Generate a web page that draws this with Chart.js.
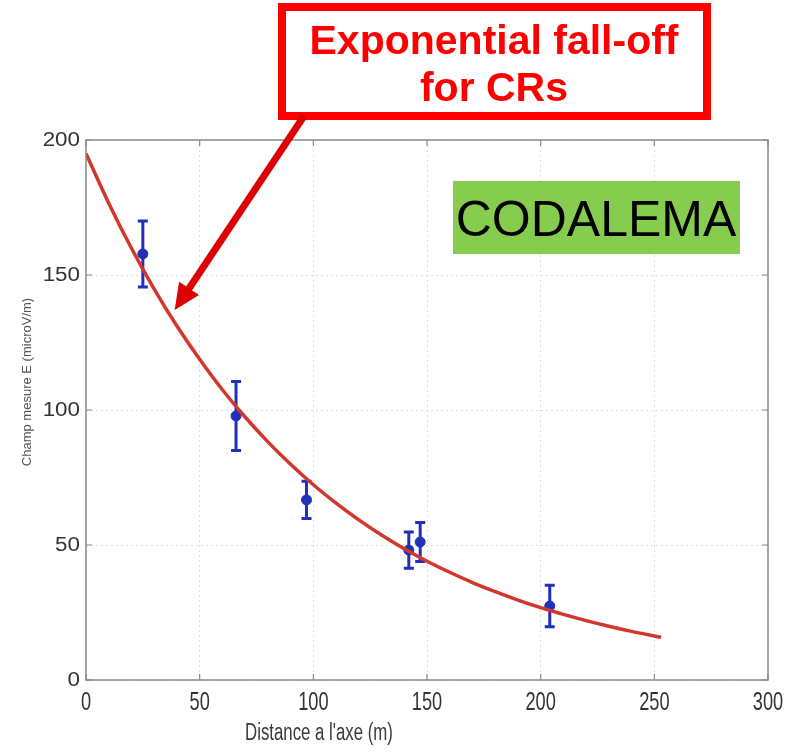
<!DOCTYPE html>
<html>
<head>
<meta charset="utf-8">
<script src="https://cdn.jsdelivr.net/npm/chart.js@4/dist/chart.umd.min.js"></script>
<style>
  html, body { margin: 0; padding: 0; background: #ffffff; }
  #wrap { width: 798px; height: 755px; }
</style>
</head>
<body>
<div id="wrap"><canvas id="c" width="798" height="755"></canvas></div>
<script>
// Measured radio field vs. distance to the shower axis
const xDistance = [25, 66, 97, 142, 147, 204];
const fieldE    = [157.8, 97.8, 66.7, 48.1, 51.1, 27.4];
const fieldErr  = [12.2, 12.8, 6.9, 6.7, 7.2, 7.7];

// Exponential fit curve
const fitX = [0, 10, 20, 30, 40, 50, 60, 70, 80, 90, 100, 110, 120, 130, 140,
              150, 160, 170, 180, 190, 200, 210, 220, 230, 240, 250, 253];
const fitE = [195, 176.6, 159.9, 144.8, 131.1, 118.8, 107.5, 97.4, 88.2, 79.9, 72.3,
              65.5, 59.3, 53.7, 48.6, 44.0, 39.9, 36.1, 32.7, 29.6, 26.8, 24.3,
              22.0, 19.9, 18.0, 16.3, 15.8];

const xTicks = [0, 50, 100, 150, 200, 250, 300];
const yTicks = [0, 50, 100, 150, 200];

const xTitle = "Distance a l'axe (m)";
const yTitle = "Champ mesure E (microV/m)";
const noteLines = ["Exponential fall-off", "for CRs"];
const arrowTip = { x: 39, y: 137 };
const expLabel = "CODALEMA";

const AXIS_GREY = '#8a8a8a';
const TICK_TEXT = '#333333';
const FONT = '"Liberation Sans", Arial, sans-serif';

// text with a horizontal stretch factor
function stretchedText(ctx, text, x, y, size, sx, align, color) {
  ctx.save();
  ctx.translate(x, y);
  ctx.scale(sx, 1);
  ctx.font = size + 'px ' + FONT;
  ctx.fillStyle = color;
  ctx.textAlign = align;
  ctx.textBaseline = 'middle';
  ctx.fillText(text, 0, 0);
  ctx.restore();
}

// error bars under the curve
const errorBars = {
  id: 'errorBars',
  beforeDatasetsDraw(chart) {
    const { ctx, scales: { x, y } } = chart;
    ctx.save();
    ctx.strokeStyle = '#2130b8';
    ctx.lineWidth = 3;
    ctx.lineCap = 'butt';
    xDistance.forEach((d, i) => {
      const px = x.getPixelForValue(d);
      const top = y.getPixelForValue(fieldE[i] + fieldErr[i]);
      const bot = y.getPixelForValue(fieldE[i] - fieldErr[i]);
      ctx.beginPath();
      ctx.moveTo(px, top); ctx.lineTo(px, bot);
      ctx.moveTo(px - 5, top); ctx.lineTo(px + 5, top);
      ctx.moveTo(px - 5, bot); ctx.lineTo(px + 5, bot);
      ctx.stroke();
    });
    ctx.restore();
  }
};

// axes box, inward ticks, tick labels, axis titles and annotations
const decorations = {
  id: 'decorations',
  afterDraw(chart) {
    const { ctx, chartArea: a, scales: { x, y } } = chart;
    ctx.save();

    // box around the plot
    ctx.strokeStyle = AXIS_GREY;
    ctx.lineWidth = 1.5;
    ctx.strokeRect(a.left, a.top, a.right - a.left, a.bottom - a.top);

    // inward ticks on all four sides
    ctx.lineWidth = 1.2;
    ctx.beginPath();
    xTicks.forEach(v => {
      const px = x.getPixelForValue(v);
      ctx.moveTo(px, a.bottom); ctx.lineTo(px, a.bottom - 6);
      ctx.moveTo(px, a.top); ctx.lineTo(px, a.top + 6);
    });
    yTicks.forEach(v => {
      const py = y.getPixelForValue(v);
      ctx.moveTo(a.left, py); ctx.lineTo(a.left + 6, py);
      ctx.moveTo(a.right, py); ctx.lineTo(a.right - 6, py);
    });
    ctx.stroke();

    // tick labels
    xTicks.forEach(v => {
      stretchedText(ctx, String(v), x.getPixelForValue(v), a.bottom + 23, 26, 0.7, 'center', TICK_TEXT);
    });
    yTicks.forEach(v => {
      stretchedText(ctx, String(v), a.left - 6, y.getPixelForValue(v), 20, 1.12, 'right', TICK_TEXT);
    });

    // axis titles
    stretchedText(ctx, xTitle, 319, 734, 23, 0.73, 'center', '#3a3a3a');

    ctx.save();
    ctx.translate(27, 382);
    ctx.rotate(-Math.PI / 2);
    ctx.fillStyle = '#555555';
    ctx.font = '13px ' + FONT;
    ctx.textAlign = 'center';
    ctx.textBaseline = 'middle';
    ctx.fillText(yTitle, 0, 0);
    ctx.restore();

    // callout box
    ctx.fillStyle = '#ffffff';
    ctx.fillRect(282, 7, 425, 109);
    ctx.strokeStyle = '#ff0000';
    ctx.lineWidth = 8;
    ctx.strokeRect(282, 7, 425, 109);
    ctx.fillStyle = '#ff0000';
    ctx.font = 'bold 41px ' + FONT;
    ctx.textAlign = 'center';
    ctx.textBaseline = 'alphabetic';
    ctx.fillText(noteLines[0], 494, 54);
    ctx.fillText(noteLines[1], 494, 101);

    // arrow pointing at the fit curve
    const tx = x.getPixelForValue(arrowTip.x);
    const ty = y.getPixelForValue(arrowTip.y);
    const sx = 304, sy = 116;
    const ang = Math.atan2(ty - sy, tx - sx);
    const headLen = 26, headHalf = 12;
    const bx = tx - headLen * Math.cos(ang), by = ty - headLen * Math.sin(ang);
    ctx.strokeStyle = '#dd0000';
    ctx.fillStyle = '#dd0000';
    ctx.lineWidth = 7;
    ctx.lineCap = 'butt';
    ctx.beginPath();
    ctx.moveTo(sx, sy);
    ctx.lineTo(bx + 4 * Math.cos(ang), by + 4 * Math.sin(ang));
    ctx.stroke();
    ctx.beginPath();
    ctx.moveTo(tx, ty);
    ctx.lineTo(bx + headHalf * Math.sin(ang), by - headHalf * Math.cos(ang));
    ctx.lineTo(bx - headHalf * Math.sin(ang), by + headHalf * Math.cos(ang));
    ctx.closePath();
    ctx.fill();

    // experiment label
    ctx.fillStyle = '#86cc4f';
    ctx.fillRect(453, 181, 287, 73);
    ctx.fillStyle = '#000000';
    ctx.font = '50px ' + FONT;
    ctx.textAlign = 'center';
    ctx.fillText(expLabel, 596, 236);

    ctx.restore();
  }
};

const ctx = document.getElementById('c').getContext('2d');
new Chart(ctx, {
  type: 'scatter',
  data: {
    datasets: [
      {
        type: 'line',
        label: 'fit',
        data: fitX.map((v, i) => ({ x: v, y: fitE[i] })),
        borderColor: '#d2372d',
        borderWidth: 3.5,
        pointRadius: 0,
        fill: false,
        cubicInterpolationMode: 'monotone',
        order: 1
      },
      {
        label: 'E',
        data: xDistance.map((v, i) => ({ x: v, y: fieldE[i] })),
        backgroundColor: '#2130b8',
        borderColor: '#2130b8',
        pointRadius: 5,
        order: 2
      }
    ]
  },
  options: {
    responsive: false,
    animation: false,
    events: [],
    layout: { padding: { top: 140, right: 30, left: 0, bottom: 0 } },
    plugins: { legend: { display: false }, tooltip: { enabled: false }, title: { display: false } },
    scales: {
      x: {
        type: 'linear',
        min: 0, max: 300,
        afterBuildTicks: s => { s.ticks = xTicks.map(v => ({ value: v })); },
        afterFit: s => { s.height = 75; },
        grid: { color: '#dedede', lineWidth: 1, drawTicks: false },
        border: { display: false, dash: [2, 3] },
        ticks: { display: false }
      },
      y: {
        type: 'linear',
        min: 0, max: 200,
        afterBuildTicks: s => { s.ticks = yTicks.map(v => ({ value: v })); },
        afterFit: s => { s.width = 86; },
        grid: { color: '#dedede', lineWidth: 1, drawTicks: false },
        border: { display: false, dash: [2, 3] },
        ticks: { display: false }
      }
    }
  },
  plugins: [errorBars, decorations]
});
</script>
</body>
</html>
